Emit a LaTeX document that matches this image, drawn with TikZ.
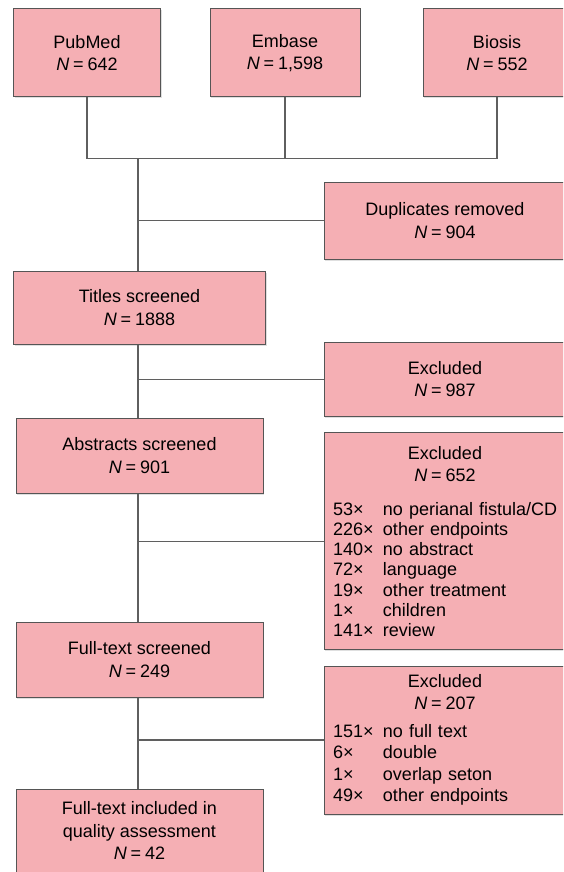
\documentclass[tikz,border=0pt]{standalone}
\usepackage{fontspec}
\setmainfont{Liberation Sans}
\usetikzlibrary{shadows}
\definecolor{boxfill}{RGB}{245,175,180}
\definecolor{boxline}{RGB}{85,85,85}
\definecolor{linkcol}{RGB}{95,95,95}
\newcommand{\NN}[1]{\textit{N}\hspace{0.22em}=\hspace{0.22em}#1}
\newcommand{\hdr}[1]{\makebox[224pt]{#1}}
\newcommand{\li}[2]{\mbox{\makebox[50pt][l]{#1}#2}}
\begin{document}
\begin{tikzpicture}[x=1pt,y=-1pt,
  box/.style={draw=boxline,fill=boxfill,line width=1pt,inner sep=0pt,
    font=\fontsize{18}{22.3}\selectfont,align=center,
    drop shadow={shadow xshift=1pt,shadow yshift=-1.5pt,opacity=0.25}},
  wide/.style={box,minimum width=242pt,text width=224pt,align=left},
  link/.style={draw=linkcol,line width=1.1pt}]
\clip (0,0) rectangle (563,872);
\fill[white] (0,0) rectangle (563,872);
% sources
\node[box,minimum width=147pt,minimum height=88pt] (pub) at (87,53) {PubMed\\\NN{642}};
\node[box,minimum width=150pt,minimum height=88pt] (emb) at (285,53) {Embase\\\NN{1,598}};
\node[box,minimum width=148pt,minimum height=88pt] (bio) at (497,53) {Biosis\\\NN{552}};
% left column
\node[box,minimum width=252pt,minimum height=73pt] (tit) at (139.5,307.5) {Titles screened\\\NN{1888}};
\node[box,minimum width=247pt,minimum height=75pt] (abs) at (139.5,455.5) {Abstracts screened\\\NN{901}};
\node[box,minimum width=247pt,minimum height=75pt] (ful) at (139.5,659.5) {Full-text screened\\\NN{249}};
\node[box,minimum width=247pt,minimum height=83pt] (inc) at (139.5,830.5) {Full-text included in\\quality assessment\\\NN{42}};
% right column
\node[box,minimum width=242pt,minimum height=77pt] (dup) at (445,220.5) {Duplicates removed\\\NN{904}};
\node[box,minimum width=242pt,minimum height=74.5pt] (ex1) at (445,379.25) {Excluded\\\NN{987}};
\node[wide,minimum height=217pt,font=\fontsize{18}{20.2}\selectfont] (ex2) at (445,541.35)
  {\hdr{Excluded}\\[2.1pt]\hdr{\NN{652}}\\[13.8pt]
   \li{53×}{no perianal fistula/CD}\\
   \li{226×}{other endpoints}\\
   \li{140×}{no abstract}\\
   \li{72×}{language}\\
   \li{19×}{other treatment}\\
   \li{1×}{children}\\
   \li{141×}{review}};
\node[wide,minimum height=148pt,font=\fontsize{18}{21.4}\selectfont] (ex3) at (445,740)
  {\hdr{Excluded}\\[0.9pt]\hdr{\NN{207}}\\[6.3pt]
   \li{151×}{no full text}\\
   \li{6×}{double}\\
   \li{1×}{overlap seton}\\
   \li{49×}{other endpoints}};
% connectors
\coordinate (j) at (138,158.3);
\draw[link] (pub.south) -- (pub.south |- j) -- (bio.south |- j) -- (bio.south);
\draw[link] (emb.south) -- (emb.south |- j);
\draw[link] (j) -- (tit.north -| j);
\draw[link] (dup.west) -- (dup.west -| j);
\draw[link] (tit.south -| j) -- (abs.north -| j);
\draw[link] (ex1.west) -- (ex1.west -| j);
\draw[link] (abs.south -| j) -- (ful.north -| j);
\draw[link] (ex2.west) -- (ex2.west -| j);
\draw[link] (ful.south -| j) -- (inc.north -| j);
\draw[link] (ex3.west) -- (ex3.west -| j);
\end{tikzpicture}
\end{document}
